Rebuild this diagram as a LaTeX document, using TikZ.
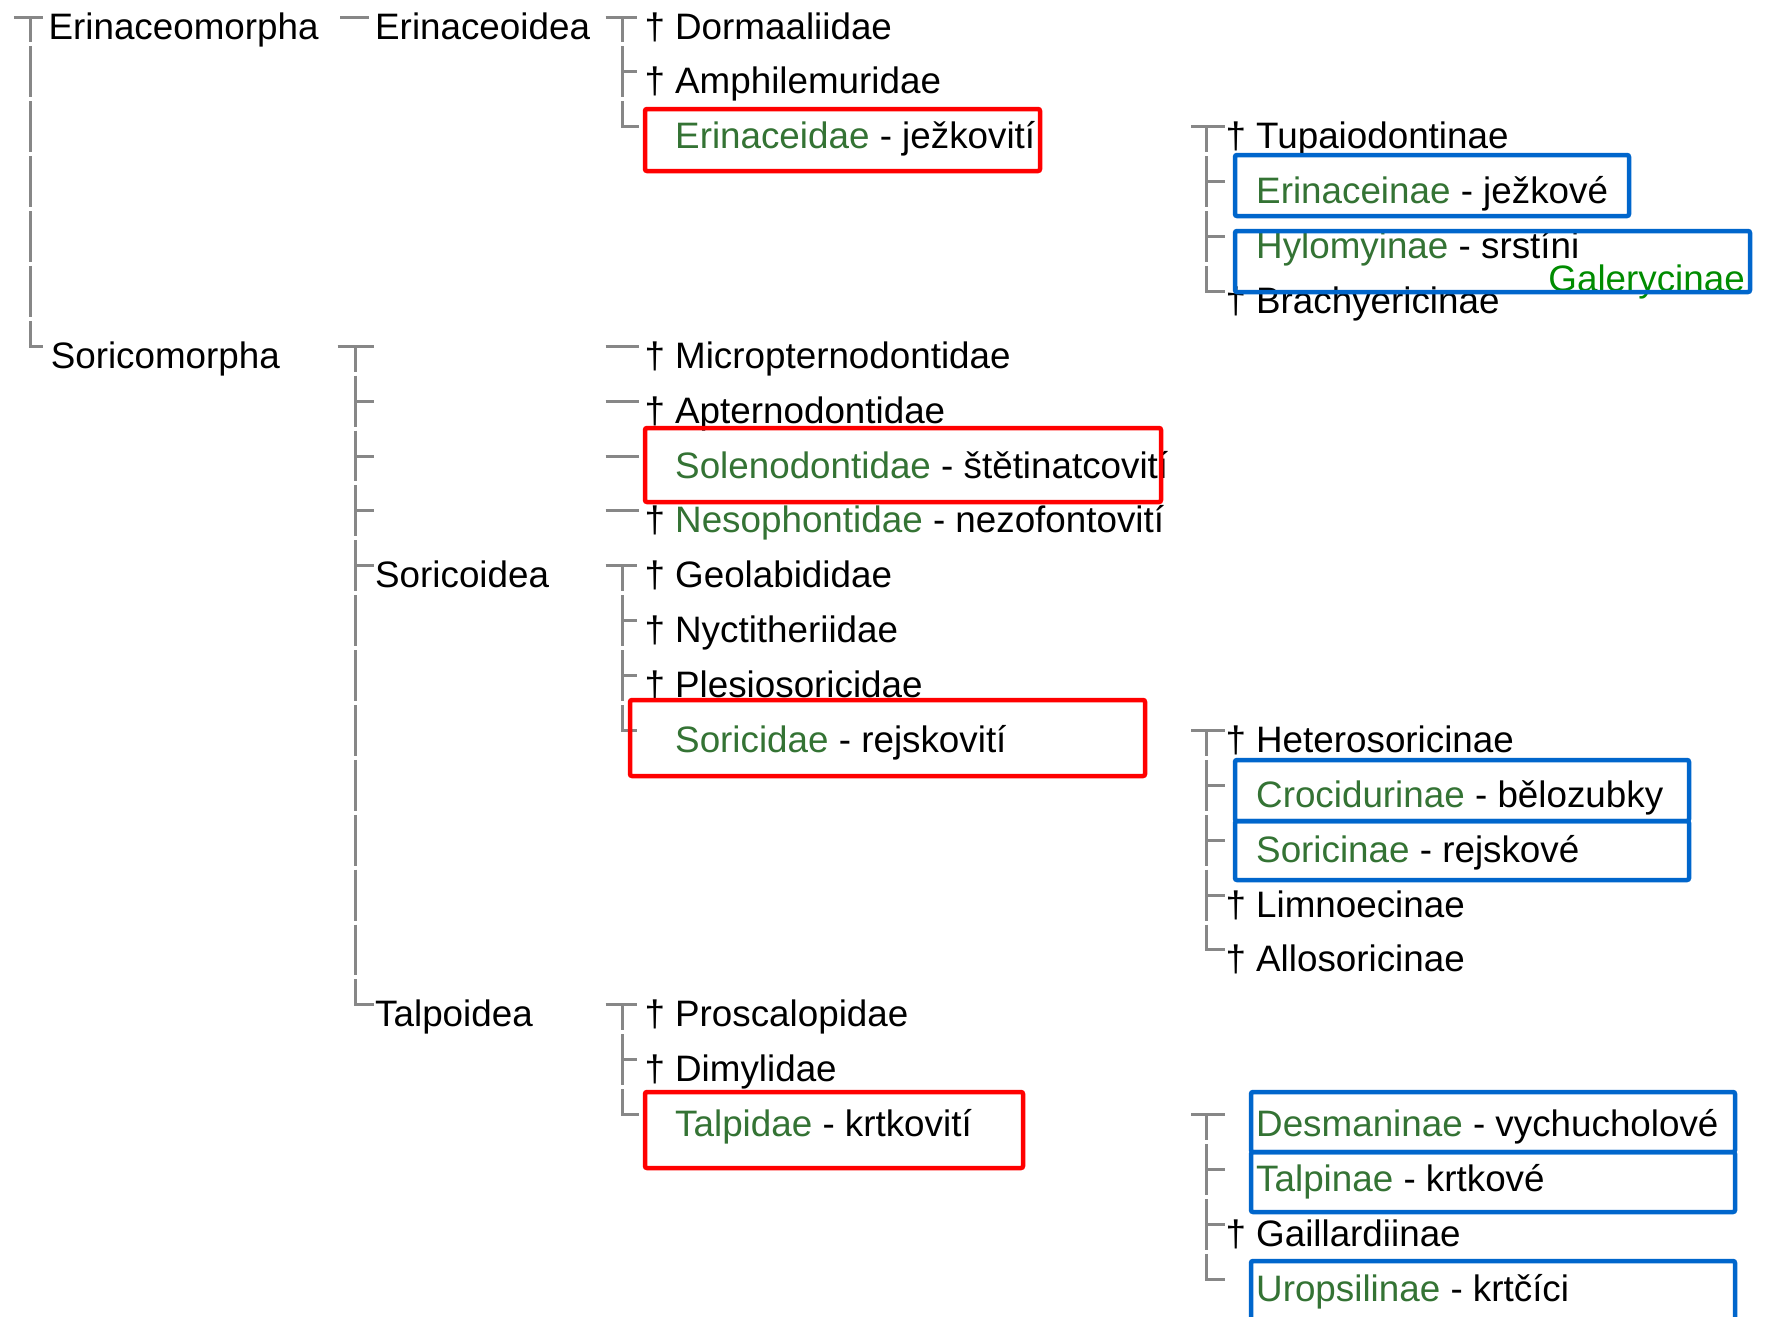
\documentclass[tikz,border=0pt]{standalone}
\usepackage{fontspec}
\setmainfont{Liberation Sans}
\usetikzlibrary{calc}
\definecolor{tgreen}{RGB}{52,115,52}
\definecolor{tgray}{RGB}{135,135,135}
\definecolor{bxred}{RGB}{255,0,0}
\definecolor{bxblue}{RGB}{0,102,204}
\definecolor{galgreen}{RGB}{0,140,0}
\newcommand\dg{\llap{†\ }}
\newcommand\gr[1]{\textcolor{tgreen}{#1}}
\def\R#1{39+54.88*#1}
\begin{document}
\begin{tikzpicture}[x=1pt,y=-1pt,
 lbl/.style={anchor=base west,inner sep=0pt,font=\fontsize{36.8}{40}\selectfont},
 tree/.style={draw=tgray,line width=3pt},
 vline/.style={tree,dash pattern=on 50.88pt off 4pt,dash phase=25.44pt},
 redbox/.style={draw=bxred,line width=4.5pt,rounded corners=2pt},
 bluebox/.style={draw=bxblue,line width=4.5pt,rounded corners=2pt}]
\clip (0,0) rectangle (1765,1317);
\fill[white] (0,0) rectangle (1765,1317);

% column A
\node[lbl] (erm) at (48.4,{\R{0}}) {Erinaceomorpha};
\node[lbl] (som) at (50.6,{\R{6}}) {Soricomorpha};
% column B
\node[lbl] (eri) at (375,{\R{0}}) {Erinaceoidea};
\coordinate (smc) at (375,{\R{6}});
\coordinate (b7) at (375,{\R{7}});
\coordinate (b8) at (375,{\R{8}});
\coordinate (b9) at (375,{\R{9}});
\node[lbl] (soi) at (375,{\R{10}}) {Soricoidea};
\node[lbl] (tao) at (375,{\R{18}}) {Talpoidea};
% column C
\node[lbl] (dor) at (675,{\R{0}}) {\dg Dormaaliidae};
\node[lbl] (amp) at (675,{\R{1}}) {\dg Amphilemuridae};
\node[lbl] (erd) at (675,{\R{2}}) {\gr{Erinaceidae} - ježkovití};
\node[lbl] (mic) at (675,{\R{6}}) {\dg Micropternodontidae};
\node[lbl] (apt) at (675,{\R{7}}) {\dg Apternodontidae};
\node[lbl] (sol) at (675,{\R{8}}) {\gr{Solenodontidae} - štětinatcovití};
\node[lbl] (nes) at (675,{\R{9}}) {\dg\gr{Nesophontidae} - nezofontovití};
\node[lbl] (geo) at (675,{\R{10}}) {\dg Geolabididae};
\node[lbl] (nyc) at (675,{\R{11}}) {\dg Nyctitheriidae};
\node[lbl] (ple) at (675,{\R{12}}) {\dg Plesiosoricidae};
\node[lbl] (sod) at (675,{\R{13}}) {\gr{Soricidae} - rejskovití};
\node[lbl] (pro) at (675,{\R{18}}) {\dg Proscalopidae};
\node[lbl] (dim) at (675,{\R{19}}) {\dg Dimylidae};
\node[lbl] (tad) at (675,{\R{20}}) {\gr{Talpidae} - krtkovití};
% column D
\node[lbl] (tup) at (1256,{\R{2}}) {\dg Tupaiodontinae};
\node[lbl] (ern) at (1256,{\R{3}}) {\gr{Erinaceinae} - ježkové};
\node[lbl] (hyl) at (1256,{\R{4}}) {\gr{Hylomyinae} - srstíni};
\node[lbl] (bra) at (1256,{\R{5}}) {\dg Brachyericinae};
\node[lbl] (het) at (1256,{\R{13}}) {\dg Heterosoricinae};
\node[lbl] (cro) at (1256,{\R{14}}) {\gr{Crocidurinae} - bělozubky};
\node[lbl] (sri) at (1256,{\R{15}}) {\gr{Soricinae} - rejskové};
\node[lbl] (lim) at (1256,{\R{16}}) {\dg Limnoecinae};
\node[lbl] (all) at (1256,{\R{17}}) {\dg Allosoricinae};
\node[lbl] (des) at (1256,{\R{20}}) {\gr{Desmaninae} - vychucholové};
\node[lbl] (tai) at (1256,{\R{21}}) {\gr{Talpinae} - krtkové};
\node[lbl] (gai) at (1256,{\R{22}}) {\dg Gaillardiinae};
\node[lbl] (uro) at (1256,{\R{23}}) {\gr{Uropsilinae} - krtčíci};
\node[anchor=base east,inner sep=0pt,font=\fontsize{36.8}{40}\selectfont,text=galgreen] (gal) at (1745,291) {Galerycinae};

% connectors column A
\draw[tree] ([shift={(-34.5,-22)}]erm.base west) -- ([shift={(-5,-22)}]erm.base west);
\draw[vline] ([shift={(-18,-22)}]erm.base west) |- ([shift={(-7.8,-22)}]som.base west);
% column B
\draw[tree] ([shift={(-35,-22)}]eri.base west) -- ([shift={(-6,-22)}]eri.base west);
\draw[tree] ([shift={(-37.3,-22)}]smc) -- ([shift={(-1.3,-22)}]smc);
\draw[vline] ([shift={(-19.3,-22)}]smc) |- ([shift={(-1.3,-22)}]tao.base west);
\foreach \c in {b7,b8,b9}
  \draw[tree] ([shift={(-19.3,-22)}]\c) -- ([shift={(-1.3,-22)}]\c);
\draw[tree] ([shift={(-19.3,-22)}]soi.base west) -- ([shift={(-1.3,-22)}]soi.base west);
% column C groups
\draw[tree] ([shift={(-69.4,-22)}]dor.base west) -- ([shift={(-38,-22)}]dor.base west);
\draw[vline] ([shift={(-52.5,-22)}]dor.base west) |- ([shift={(-36,-22)}]erd.base west);
\draw[tree] ([shift={(-52.5,-22)}]amp.base west) -- ([shift={(-38,-22)}]amp.base west);
\foreach \c in {mic,apt,sol,nes}
  \draw[tree] ([shift={(-69.4,-22)}]\c.base west) -- ([shift={(-35.6,-22)}]\c.base west);
\draw[tree] ([shift={(-69.4,-22)}]geo.base west) -- ([shift={(-38,-22)}]geo.base west);
\draw[vline] ([shift={(-52.5,-22)}]geo.base west) |- ([shift={(-38,-22)}]sod.base west);
\foreach \c in {nyc,ple}
  \draw[tree] ([shift={(-52.5,-22)}]\c.base west) -- ([shift={(-38,-22)}]\c.base west);
\draw[tree] ([shift={(-69.4,-22)}]pro.base west) -- ([shift={(-38,-22)}]pro.base west);
\draw[vline] ([shift={(-52.5,-22)}]pro.base west) |- ([shift={(-36,-22)}]tad.base west);
\draw[tree] ([shift={(-52.5,-22)}]dim.base west) -- ([shift={(-38,-22)}]dim.base west);
% column D groups
\draw[tree] ([shift={(-65,-22)}]tup.base west) -- ([shift={(-31,-22)}]tup.base west);
\draw[vline] ([shift={(-49.3,-22)}]tup.base west) |- ([shift={(-31,-22)}]bra.base west);
\foreach \c in {ern,hyl}
  \draw[tree] ([shift={(-49.3,-22)}]\c.base west) -- ([shift={(-31,-22)}]\c.base west);
\draw[tree] ([shift={(-65,-22)}]het.base west) -- ([shift={(-31,-22)}]het.base west);
\draw[vline] ([shift={(-49.3,-22)}]het.base west) |- ([shift={(-31,-22)}]all.base west);
\foreach \c in {cro,sri,lim}
  \draw[tree] ([shift={(-49.3,-22)}]\c.base west) -- ([shift={(-31,-22)}]\c.base west);
\draw[tree] ([shift={(-65,-22)}]des.base west) -- ([shift={(-31,-22)}]des.base west);
\draw[vline] ([shift={(-49.3,-22)}]des.base west) |- ([shift={(-31,-22)}]uro.base west);
\foreach \c in {tai,gai}
  \draw[tree] ([shift={(-49.3,-22)}]\c.base west) -- ([shift={(-31,-22)}]\c.base west);

% highlight boxes
\draw[redbox] (645,109) rectangle (1040,171);
\draw[redbox] (645,428) rectangle (1161,502);
\draw[redbox] (630,700) rectangle (1145,776);
\draw[redbox] (645,1092) rectangle (1023,1168);
\draw[bluebox] (1235,155) rectangle (1629,216);
\draw[bluebox] (1235,231) rectangle (1750,292);
\draw[bluebox] (1235,760) rectangle (1689,821);
\draw[bluebox] (1235,821) rectangle (1689,880);
\draw[bluebox] (1251,1092) rectangle (1735,1152);
\draw[bluebox] (1251,1152) rectangle (1735,1212);
\draw[bluebox] (1251,1261) rectangle (1735,1345);
\end{tikzpicture}
\end{document}
